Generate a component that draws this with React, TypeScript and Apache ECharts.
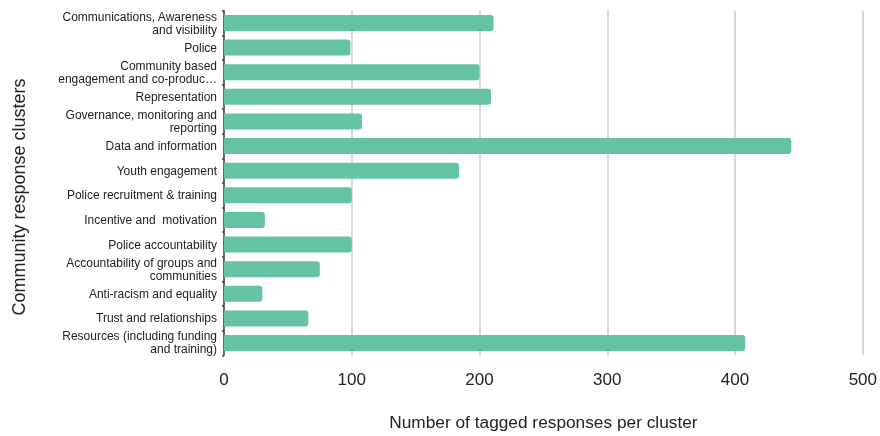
import React, { useEffect, useRef } from "react";
import * as echarts from "echarts";

const categories: string[] = [
  "Communications, Awareness\nand visibility",
  "Police",
  "Community based\nengagement and co-produc…",
  "Representation",
  "Governance, monitoring and\nreporting",
  "Data and information",
  "Youth engagement",
  "Police recruitment & training",
  "Incentive and  motivation",
  "Police accountability",
  "Accountability of groups and\ncommunities",
  "Anti-racism and equality",
  "Trust and relationships",
  "Resources (including funding\nand training)",
];

const responses: number[] = [211, 99, 200, 209, 108, 444, 184, 100, 32, 100, 75, 30, 66, 408];

const xTicks = { min: 0, max: 500, interval: 100 };

export default function App() {
  const ref = useRef<HTMLDivElement>(null);
  useEffect(() => {
    if (!ref.current) return;
    const chart = echarts.init(ref.current, undefined, { renderer: "svg" });
    const font = "'Liberation Sans', Arial, Helvetica, sans-serif";
    chart.setOption({
      animation: false,
      textStyle: { fontFamily: font },
      grid: { left: 224, right: 16.5, top: 10.7, bottom: 80.7 },
      xAxis: {
        type: "value",
        min: xTicks.min,
        max: xTicks.max,
        interval: xTicks.interval,
        name: "Number of tagged responses per cluster",
        nameLocation: "middle",
        nameGap: 58,
        nameTextStyle: { fontSize: 17.3, color: "#222", fontFamily: font },
        axisLine: { show: false },
        axisTick: { show: false },
        axisLabel: { fontSize: 17, color: "#222", margin: 16, fontFamily: font },
        splitLine: { show: true, lineStyle: { color: "#cccccc", width: 1.5 } },
      },
      yAxis: {
        type: "category",
        data: categories,
        inverse: true,
        name: "Community response clusters",
        nameLocation: "middle",
        nameGap: 196,
        nameTextStyle: { fontSize: 18, color: "#222", fontFamily: font, padding: [0, 28, 0, 0] },
        axisLine: { show: true, lineStyle: { color: "#444", width: 1.5 } },
        axisTick: { show: true, length: 2, lineStyle: { color: "#444", width: 1.5 } },
        axisLabel: { fontSize: 12, color: "#222", margin: 7, lineHeight: 13, fontFamily: font },
      },
      series: [
        {
          type: "bar",
          data: responses,
          barCategoryGap: "35%",
          itemStyle: { color: "#65c3a3", borderRadius: [0, 3, 3, 0] },
        },
      ],
    });
    return () => chart.dispose();
  }, []);
  return (
    <div
      ref={ref}
      style={{ position: "fixed", left: 0, top: 0, width: 880, height: 436 }}
    />
  );
}
